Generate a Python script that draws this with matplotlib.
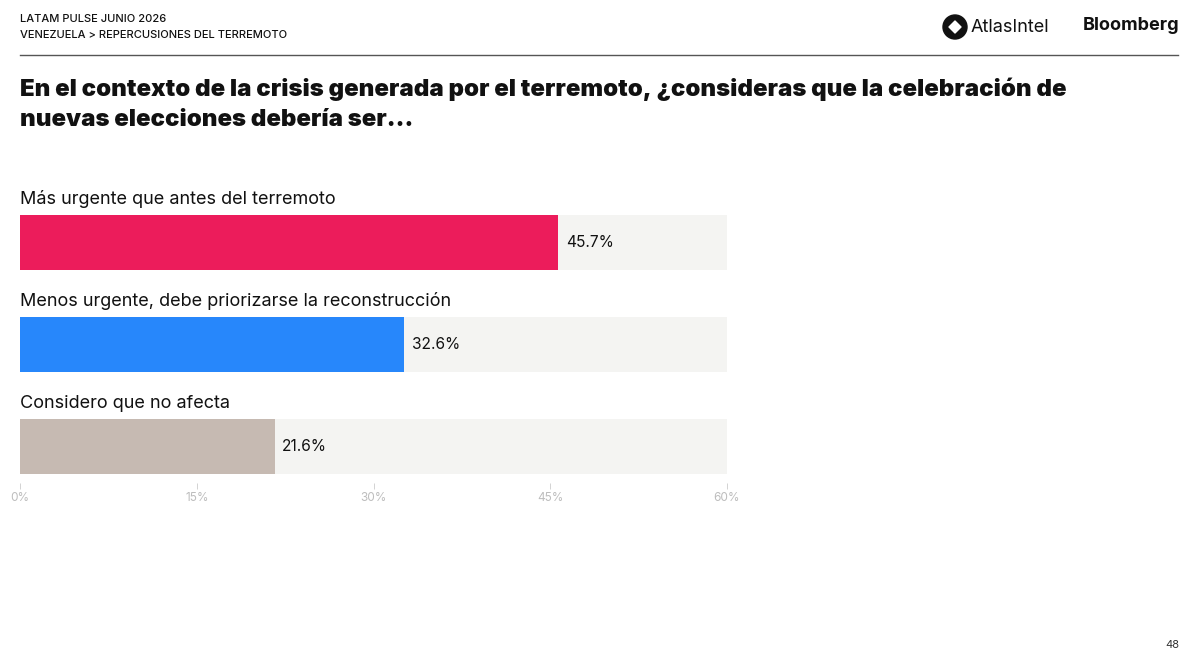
import matplotlib.pyplot as plt
from matplotlib.patches import Circle, Polygon

categories = [
    "Más urgente que antes del terremoto",
    "Menos urgente, debe priorizarse la reconstrucción",
    "Considero que no afecta",
]
values = [45.7, 32.6, 21.6]
colors = ["#ec1c5b", "#2787fb", "#c6bab2"]
xticks = [0, 15, 30, 45, 60]
xmax = 60

W, H = 1200, 672
plt.rcParams["font.family"] = ["Inter", "DejaVu Sans"]

fig = plt.figure(figsize=(W / 100, H / 100), dpi=100)
fig.patch.set_facecolor("white")


def fx(px):
    return px / W


def fy(py):
    return 1 - py / H


# header
fig.text(fx(20), fy(19), "LATAM PULSE JUNIO 2026", fontsize=8, weight="medium",
         color="#111111", va="center")
fig.text(fx(20), fy(35), "VENEZUELA > REPERCUSIONES DEL TERREMOTO", fontsize=8,
         weight="medium", color="#111111", va="center")
fig.add_artist(plt.Line2D([fx(20), fx(1178)], [fy(55), fy(55)],
                          color="#555555", lw=1.0, transform=fig.transFigure))

# AtlasIntel logo (pixel coords)
cx, cy, r = 955, 27, 12
fig.add_artist(Circle((cx, H - cy), r, transform=None, color="#111111"))
d = 6
fig.add_artist(Polygon([(cx - d, H - cy), (cx, H - cy + d), (cx + d, H - cy), (cx, H - cy - d)],
                       closed=True, transform=None, color="white", joinstyle="round"))
fig.text(fx(971), fy(27), "AtlasIntel", fontsize=13, color="#111111", va="center")
fig.text(fx(1083), fy(26), "Bloomberg", fontsize=13, weight="bold",
         color="#111111", va="center")

# title
fig.text(fx(20), fy(89), "En el contexto de la crisis generada por el terremoto, ¿consideras que la celebración de",
         fontsize=17.25, weight="black", color="#111111", va="center")
fig.text(fx(20), fy(120), "nuevas elecciones debería ser...",
         fontsize=17.25, weight="black", color="#111111", va="center")

# page number
fig.text(fx(1172), fy(645), "48", fontsize=8, color="#333333", ha="center", va="center")

# chart
top_px, bot_px = 185, 483
ax = fig.add_axes([fx(20), fy(bot_px), fx(727) - fx(20), (bot_px - top_px) / H])
spacing = 102
center0 = 242.5
ax.set_ylim((bot_px - center0) / spacing, (top_px - center0) / spacing)
ax.set_xlim(0, xmax)
h = 55 / spacing
pos = list(range(len(categories)))

ax.barh(pos, [xmax] * len(pos), height=h, color="#f4f4f2", zorder=1)
ax.barh(pos, values, height=h, color=colors, zorder=2)
for i, (cat, v) in enumerate(zip(categories, values)):
    ax.text(0, i - h / 2 - 0.07, cat, fontsize=13, color="#111111", va="bottom", ha="left")
    ax.annotate(f"{v:.1f}%", (v, i), xytext=(5.5, 0), textcoords="offset points",
                fontsize=11.2, color="#111111", va="center", ha="left")

for s in ax.spines.values():
    s.set_visible(False)
ax.set_yticks([])
ax.set_xticks(xticks)
ax.set_xticklabels([f"{t}%" for t in xticks])
ax.tick_params(axis="x", length=4, width=0.6, color="#cccccc", labelcolor="#bdbdbd",
               labelsize=8.5, pad=2.5)
ax.set_facecolor("none")

fig.savefig("out.png", dpi=100, facecolor="white")
